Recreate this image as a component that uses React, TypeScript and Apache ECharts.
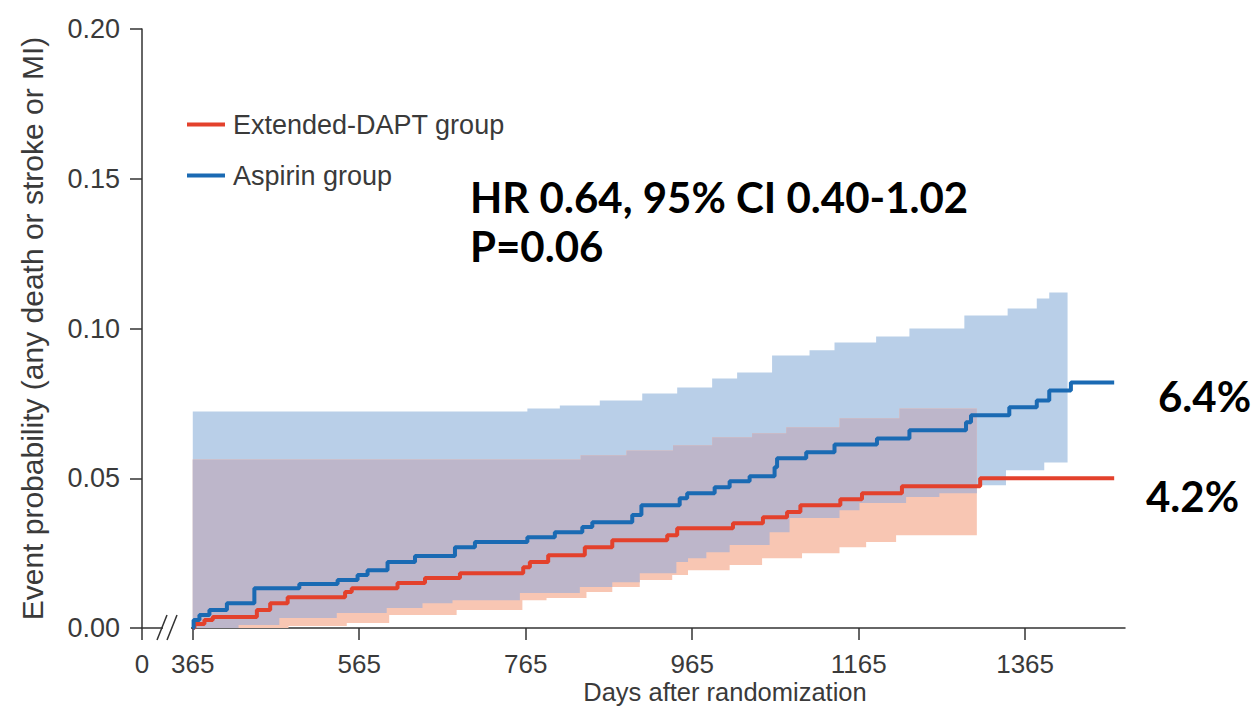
import { useEffect, useRef } from 'react';
import * as echarts from 'echarts';

// ---- Data (days after randomization, event probability) ----
const aspirinDays = [365, 366, 373, 385, 406, 439, 493, 539, 563, 575, 599, 632, 680, 704, 767, 800, 833, 845, 893, 904, 950, 959, 992, 1010, 1034, 1064, 1067, 1102, 1136, 1187, 1226, 1294, 1300, 1346, 1379, 1394, 1420, 1472];
const aspirinProb = [0, 0.0027, 0.0043, 0.006, 0.0083, 0.0133, 0.0147, 0.016, 0.0177, 0.0193, 0.022, 0.024, 0.027, 0.0287, 0.0303, 0.032, 0.0337, 0.0353, 0.0377, 0.041, 0.0433, 0.045, 0.047, 0.049, 0.0507, 0.0537, 0.0567, 0.0587, 0.0613, 0.0633, 0.066, 0.0687, 0.071, 0.0737, 0.076, 0.0793, 0.082, 0.082];

const dAptDays = [365, 367, 379, 389, 442, 458, 479, 548, 556, 611, 644, 686, 762, 770, 792, 836, 869, 935, 947, 1014, 1050, 1079, 1095, 1143, 1169, 1217, 1311, 1472];
const dAptProb = [0, 0.0013, 0.0027, 0.0037, 0.006, 0.0083, 0.0103, 0.012, 0.0133, 0.015, 0.0167, 0.0183, 0.0203, 0.022, 0.0243, 0.027, 0.0293, 0.031, 0.0333, 0.035, 0.037, 0.0387, 0.041, 0.043, 0.045, 0.0473, 0.05, 0.05];

// 95% confidence bands (step functions)
const aspirinBandEnd = 1416;
const aspirinUpperDays = [365, 767, 806, 854, 905, 947, 989, 1019, 1061, 1106, 1136, 1186, 1226, 1292, 1344, 1379, 1394];
const aspirinUpper = [0.0723, 0.0733, 0.0743, 0.076, 0.0783, 0.0803, 0.0833, 0.0853, 0.091, 0.0927, 0.0953, 0.0973, 0.1, 0.1043, 0.1067, 0.11, 0.112];
const aspirinLowerDays = [365, 420, 469, 538, 598, 641, 677, 758, 830, 869, 902, 946, 960, 982, 1010, 1058, 1082, 1142, 1166, 1222, 1262, 1307, 1342, 1388];
const aspirinLower = [0, 0.001, 0.0033, 0.005, 0.0067, 0.0083, 0.0093, 0.0117, 0.0137, 0.0153, 0.0183, 0.022, 0.0233, 0.0253, 0.0277, 0.032, 0.0367, 0.0393, 0.0417, 0.0437, 0.045, 0.0477, 0.0527, 0.0553];

const dAptBandEnd = 1307;
const dAptUpperDays = [365, 831, 886, 942, 989, 1037, 1078, 1142, 1214];
const dAptUpper = [0.0563, 0.0577, 0.0593, 0.061, 0.0637, 0.065, 0.067, 0.07, 0.0733];
const dAptLowerDays = [365, 480, 550, 601, 682, 761, 790, 838, 869, 902, 941, 960, 1010, 1049, 1097, 1142, 1174, 1210];
const dAptLower = [0, 0.0007, 0.0017, 0.0043, 0.006, 0.0093, 0.01, 0.012, 0.0137, 0.016, 0.0177, 0.0193, 0.021, 0.0233, 0.025, 0.027, 0.0287, 0.031];

// Axis ticks
const xTickLabels = ['0', '365', '565', '765', '965', '1165', '1365'];
const xTickDays = [0, 365, 565, 765, 965, 1165, 1365];
const BREAK_ZERO = 304; // display position used for day 0 (axis break)

const C_BLUE = '#1a6ab3';
const C_RED = '#e3412c';
const C_BAND_BLUE = '#b9cfe8';
const C_BAND_RED = '#f8c6b3';
const C_BAND_BOTH = '#bdb6ca';
const FONT = 'Liberation Sans, Arial, sans-serif';
const AXIS_COLOR = '#333333';
const TEXT_COLOR = '#3a3a3a';

function stepPts(days: number[], vals: number[], end: number): number[][] {
  const pts: number[][] = [];
  for (let i = 0; i < days.length; i++) {
    const next = i + 1 < days.length ? days[i + 1] : end;
    pts.push([days[i], vals[i]]);
    pts.push([next, vals[i]]);
  }
  return pts;
}

function valueAt(days: number[], vals: number[], t: number): number {
  let v = vals[0];
  for (let i = 0; i < days.length; i++) {
    if (days[i] <= t) v = vals[i];
  }
  return v;
}

function bandPolygon(upD: number[], up: number[], loD: number[], lo: number[], end: number) {
  return stepPts(upD, up, end).concat(stepPts(loD, lo, end).reverse());
}

function overlapPolygon() {
  const end = Math.min(aspirinBandEnd, dAptBandEnd);
  const all = Array.from(new Set([...aspirinUpperDays, ...aspirinLowerDays, ...dAptUpperDays, ...dAptLowerDays]))
    .filter((d) => d < end)
    .sort((a, b) => a - b);
  const hi = all.map((t) => Math.min(valueAt(aspirinUpperDays, aspirinUpper, t), valueAt(dAptUpperDays, dAptUpper, t)));
  const lo = all.map((t) => Math.max(valueAt(aspirinLowerDays, aspirinLower, t), valueAt(dAptLowerDays, dAptLower, t)));
  return bandPolygon(all, hi, all, lo, end);
}

function bandSeries(poly: number[][], color: string, name: string) {
  return {
    type: 'custom',
    name,
    coordinateSystem: 'cartesian2d',
    silent: true,
    z: 1,
    data: [[poly[0][0], poly[0][1]]],
    encode: { x: 0, y: 1 },
    renderItem: (_p: any, api: any) => ({
      type: 'polygon',
      shape: { points: poly.map((p) => api.coord(p)) },
      style: { fill: color },
    }),
  };
}

export default function App() {
  const ref = useRef<HTMLDivElement>(null);
  useEffect(() => {
    if (!ref.current) return;
    const chart = echarts.init(ref.current, undefined, { renderer: 'svg' });
    const xPos = xTickDays.map((d) => (d === 0 ? BREAK_ZERO : d));
    const option: any = {
      animation: false,
      grid: { left: 142, right: 135, top: 29, bottom: 96 },
      legend: {
        orient: 'vertical',
        left: 182,
        top: 106,
        itemGap: 24,
        icon: 'rect',
        itemWidth: 38,
        itemHeight: 4,
        data: ['Extended-DAPT group', 'Aspirin group'],
        textStyle: { fontFamily: FONT, fontSize: 27, color: TEXT_COLOR, padding: [0, 0, 0, 3] },
      },
      xAxis: {
        type: 'value',
        min: BREAK_ZERO,
        max: 1485,
        splitLine: { show: false },
        axisLine: { lineStyle: { color: AXIS_COLOR, width: 1.5 } },
        axisTick: { customValues: xPos, length: 12, lineStyle: { color: AXIS_COLOR, width: 1.5 } },
        axisLabel: {
          customValues: xPos,
          margin: 23,
          fontFamily: FONT,
          fontSize: 26,
          color: TEXT_COLOR,
          formatter: (v: number) => xTickLabels[xPos.indexOf(v)] ?? '',
        },
      },
      yAxis: {
        type: 'value',
        min: 0,
        max: 0.2,
        interval: 0.05,
        splitLine: { show: false },
        axisLine: { show: true, lineStyle: { color: AXIS_COLOR, width: 1.5 } },
        axisTick: { show: true, length: 12, lineStyle: { color: AXIS_COLOR, width: 1.5 } },
        axisLabel: {
          margin: 22,
          fontFamily: FONT,
          fontSize: 27,
          color: TEXT_COLOR,
          formatter: (v: number) => v.toFixed(2),
        },
        name: 'Event probability (any death or stroke or MI)',
        nameLocation: 'middle',
        nameGap: 95,
        nameTextStyle: { fontFamily: FONT, fontSize: 30, color: TEXT_COLOR },
      },
      series: [
        bandSeries(bandPolygon(aspirinUpperDays, aspirinUpper, aspirinLowerDays, aspirinLower, aspirinBandEnd), C_BAND_BLUE, 'Aspirin CI'),
        bandSeries(bandPolygon(dAptUpperDays, dAptUpper, dAptLowerDays, dAptLower, dAptBandEnd), C_BAND_RED, 'Extended-DAPT CI'),
        bandSeries(overlapPolygon(), C_BAND_BOTH, 'Overlap CI'),
        {
          type: 'line',
          name: 'Extended-DAPT group',
          step: 'end',
          showSymbol: false,
          z: 3,
          color: C_RED,
          lineStyle: { color: C_RED, width: 4 },
          data: dAptDays.map((d, i) => [d, dAptProb[i]]),
        },
        {
          type: 'line',
          name: 'Aspirin group',
          step: 'end',
          showSymbol: false,
          z: 4,
          color: C_BLUE,
          lineStyle: { color: C_BLUE, width: 4 },
          data: aspirinDays.map((d, i) => [d, aspirinProb[i]]),
        },
      ],
      graphic: [
        { type: 'rect', shape: { x: 163, y: 625, width: 28, height: 6 }, style: { fill: '#ffffff' }, z: 100 },
        { type: 'line', shape: { x1: 157, y1: 640, x2: 167, y2: 615 }, style: { stroke: AXIS_COLOR, lineWidth: 1.5 }, z: 101 },
        { type: 'line', shape: { x1: 167, y1: 640, x2: 177, y2: 615 }, style: { stroke: AXIS_COLOR, lineWidth: 1.5 }, z: 101 },
        {
          type: 'text', x: 725, y: 692,
          style: { text: 'Days after randomization', fontFamily: FONT, fontSize: 25.5, fill: TEXT_COLOR, align: 'center', verticalAlign: 'middle' },
        },
        {
          type: 'text', x: 470, y: 197,
          style: { text: 'HR 0.64, 95% CI 0.40-1.02', fontFamily: 'Lato', fontWeight: 'bold', fontSize: 42, fill: '#000', verticalAlign: 'middle' },
        },
        {
          type: 'text', x: 470, y: 246,
          style: { text: 'P=0.06', fontFamily: 'Lato', fontWeight: 'bold', fontSize: 42, fill: '#000', verticalAlign: 'middle' },
        },
        {
          type: 'text', x: 1158, y: 396,
          style: { text: '6.4%', fontFamily: 'Lato', fontWeight: 'bold', fontSize: 42, fill: '#000', verticalAlign: 'middle' },
        },
        {
          type: 'text', x: 1146, y: 496,
          style: { text: '4.2%', fontFamily: 'Lato', fontWeight: 'bold', fontSize: 42, fill: '#000', verticalAlign: 'middle' },
        },
      ],
    };
    chart.setOption(option);
    return () => chart.dispose();
  }, []);
  return <div ref={ref} style={{ position: 'fixed', left: 0, top: 0, width: 1260, height: 724, background: '#fff' }} />;
}
